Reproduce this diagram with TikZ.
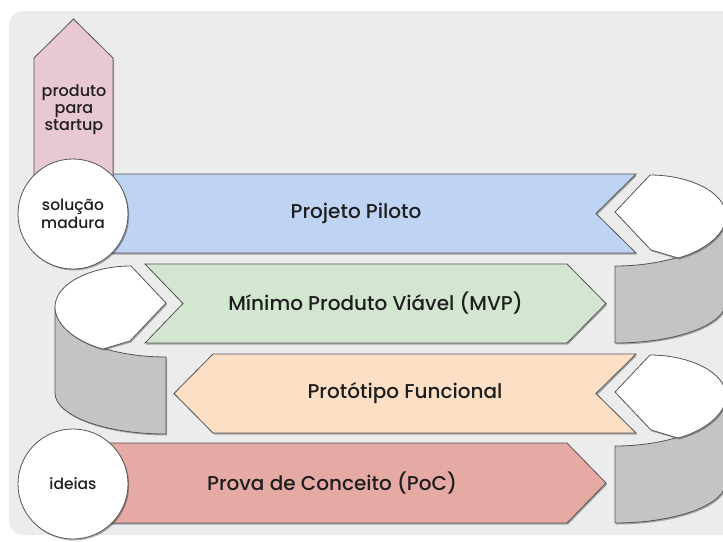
\documentclass[tikz,border=0pt]{standalone}
\usepackage{fontspec}
\setmainfont{Poppins Medium}
\usetikzlibrary{shadows}
\definecolor{bgc}{RGB}{236,236,236}
\definecolor{edgec}{RGB}{85,85,85}
\definecolor{bluec}{RGB}{191,212,242}
\definecolor{greenc}{RGB}{210,230,208}
\definecolor{orangec}{RGB}{253,223,198}
\definecolor{redc}{RGB}{230,170,164}
\definecolor{pinkc}{RGB}{233,200,213}
\definecolor{grayc}{RGB}{196,196,196}
\definecolor{txtc}{RGB}{30,30,30}
\tikzset{
  shp/.style={draw=edgec, line width=0.8pt, line join=miter,
    drop shadow={shadow xshift=1.2pt, shadow yshift=-1.5pt, opacity=0.3, fill=black}},
  bigtxt/.style={text=txtc, font=\fontsize{20}{23}\selectfont, inner sep=0pt},
  smalltxt/.style={text=txtc, font=\fontsize{16}{17}\selectfont, align=center, inner sep=0pt},
  bubble/.style={circle, shp, fill=white, minimum size=110pt, inner sep=0pt,
    text=txtc, font=\fontsize{15.5}{18}\selectfont, align=center}
}
\begin{document}
\begin{tikzpicture}[x=1pt,y=-1pt]
\useasboundingbox (0,0) rectangle (723,541);
\begin{scope}
\clip (0,0) rectangle (723,541);
\fill[bgc, rounded corners=14pt] (9,11) rectangle (740,535);

% left cylinder (turn from Protótipo to MVP)
\fill[shp, fill=grayc] (166,357) -- (166,434) .. controls (104.7,434) and (55,415.6) .. (55,393) -- (55,307) .. controls (55,334.6) and (104.7,357) .. (166,357) -- cycle;
\fill[shp, fill=white] (55,307) .. controls (55,283) and (92,266) .. (131,266) -- (166,303) -- (130,341) -- (103,349) .. controls (80,343) and (55,327) .. (55,307) -- cycle;

% right upper cylinder (turn from MVP to Projeto Piloto)
\fill[shp, fill=grayc] (615,266) -- (615,343) .. controls (676.3,343) and (726,324.6) .. (726,302) -- (726,216) .. controls (726,243.6) and (676.3,266) .. (615,266) -- cycle;
\fill[shp, fill=white] (726,216) .. controls (726,192) and (689,175) .. (650,175) -- (615,212) -- (651,250) -- (678,258) .. controls (701,252) and (726,236) .. (726,216) -- cycle;

% right lower cylinder (turn from PoC to Protótipo)
\fill[shp, fill=grayc] (615,446) -- (615,523) .. controls (676.3,523) and (726,504.6) .. (726,482) -- (726,396) .. controls (726,423.6) and (676.3,446) .. (615,446) -- cycle;
\fill[shp, fill=white] (726,396) .. controls (726,372) and (689,355) .. (650,355) -- (615,392) -- (651,430) -- (678,438) .. controls (701,432) and (726,416) .. (726,396) -- cycle;

% bands
\fill[shp, fill=bluec] (73,174) -- (636,174) -- (596,213.5) -- (636,253) -- (73,253) -- cycle;
\fill[shp, fill=greenc] (145,264) -- (567,264) -- (606,303.5) -- (567,343) -- (145,343) -- (183,303.5) -- cycle;
\fill[shp, fill=orangec] (174,393.5) -- (213,354) -- (636,354) -- (596,393.5) -- (636,433) -- (213,433) -- cycle;
\fill[shp, fill=redc] (73,443) -- (567,443) -- (606,483) -- (567,523) -- (73,523) -- cycle;

% up arrow
\fill[shp, fill=pinkc] (34,176) -- (34,58) -- (73.5,19) -- (113,58) -- (113,176) -- cycle;
\end{scope}

\node[bigtxt] (piloto) at (356,213.5) {Projeto Piloto};
\node[bigtxt] (mvp) at (375.5,303.5) {Mínimo Produto Viável (MVP)};
\node[bigtxt] (proto) at (405,393.5) {Protótipo Funcional};
\node[bigtxt] (poc) at (332,483.5) {Prova de Conceito (PoC)};
\node[smalltxt] (startup) at (74,110) {produto\\para\\startup};

\node[bubble] (madura) at (73,214) {solução\\madura};
\node[bubble] (ideias) at (73,484) {ideias};
\end{tikzpicture}
\end{document}
